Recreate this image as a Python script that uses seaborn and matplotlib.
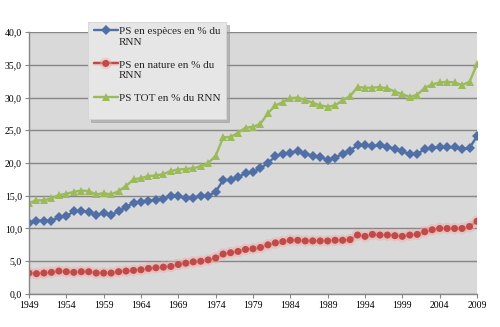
import numpy as np
import pandas as pd
import matplotlib
matplotlib.use("Agg")
import matplotlib.pyplot as plt
import matplotlib.patheffects as pe
from matplotlib.legend_handler import HandlerLine2D
from matplotlib.ticker import FuncFormatter
import seaborn as sns

years = list(range(1949, 2010))
especes = [10.9, 11.2, 11.2, 11.2, 11.7, 11.9, 12.6, 12.7, 12.5, 12.1,
           12.3, 12.1, 12.6, 13.3, 13.9, 14.0, 14.2, 14.4, 14.5, 15.0,
           14.9, 14.7, 14.7, 15.0, 15.0, 15.6, 17.4, 17.4, 17.8, 18.5,
           18.6, 19.2, 20.0, 21.0, 21.4, 21.6, 21.8, 21.4, 21.1, 20.9,
           20.5, 20.8, 21.4, 21.9, 22.7, 22.7, 22.6, 22.7, 22.5, 22.1,
           21.8, 21.3, 21.4, 22.1, 22.3, 22.4, 22.4, 22.4, 22.1, 22.3,
           24.1]
nature = [3.2, 3.1, 3.2, 3.3, 3.5, 3.4, 3.3, 3.4, 3.4, 3.2,
          3.2, 3.2, 3.4, 3.5, 3.6, 3.7, 3.9, 4.0, 4.1, 4.2,
          4.5, 4.7, 4.9, 5.0, 5.2, 5.5, 6.1, 6.3, 6.5, 6.8,
          6.9, 7.1, 7.5, 7.8, 8.0, 8.2, 8.2, 8.1, 8.1, 8.1,
          8.1, 8.2, 8.2, 8.3, 9.0, 8.8, 9.1, 9.0, 9.0, 8.9,
          8.8, 9.0, 9.1, 9.5, 9.8, 10.0, 10.0, 10.0, 10.0, 10.3,
          11.1]
total = [13.9, 14.3, 14.3, 14.6, 15.1, 15.3, 15.6, 15.8, 15.7, 15.2,
         15.4, 15.2, 15.7, 16.5, 17.5, 17.7, 18.0, 18.1, 18.3, 18.8,
         19.0, 19.1, 19.2, 19.5, 20.0, 21.1, 23.9, 24.0, 24.6, 25.4,
         25.5, 26.0, 27.6, 28.8, 29.3, 29.9, 30.0, 29.6, 29.2, 28.8,
         28.6, 28.8, 29.6, 30.2, 31.6, 31.5, 31.5, 31.6, 31.4, 30.9,
         30.5, 30.1, 30.4, 31.5, 32.0, 32.3, 32.4, 32.3, 31.9, 32.4,
         35.1]
series_names = ["PS en espèces en % du\nRNN", "PS en nature en % du\nRNN", "PS TOT en % du RNN"]
xticks = list(range(1949, 2010, 5))
yticks = [0, 5, 10, 15, 20, 25, 30, 35, 40]

df = pd.concat([
    pd.DataFrame({"year": years, "value": vals, "serie": name})
    for vals, name in zip([especes, nature, total], series_names)
], ignore_index=True)

colors = {series_names[0]: "#4F6FA6", series_names[1]: "#BE4B48", series_names[2]: "#9BBB59"}
markers = {series_names[0]: "D", series_names[1]: "o", series_names[2]: "^"}
msize = {series_names[0]: 4.8, series_names[1]: 5.0, series_names[2]: 5.5}

sns.set_theme(style="white")
plt.rcParams["font.family"] = ["Liberation Serif", "DejaVu Serif"]

fig = plt.figure(figsize=(5, 3.27), dpi=100)
ax = fig.add_axes([0.058, 0.101, 0.896, 0.801])
ax.set_facecolor("#D9D9D9")

sns.lineplot(data=df, x="year", y="value", hue="serie", style="serie",
             palette=colors, markers=markers, dashes=False, ax=ax,
             linewidth=1.7, markersize=5.0, markeredgewidth=0, legend=False)
for line, n in zip(ax.lines, series_names):
    line.set_markersize(msize[n])

glow = [pe.Stroke(linewidth=3.4, foreground="#F2A9A7", alpha=0.45), pe.Normal()]
ax.lines[1].set_path_effects(glow)

ax.set_xlim(1949, 2009)
ax.set_ylim(0, 40)
ax.set_xticks(xticks)
ax.set_yticks(yticks)
ax.yaxis.set_major_formatter(FuncFormatter(lambda v, p: f"{v:.1f}".replace(".", ",")))
ax.set_xlabel("")
ax.set_ylabel("")
ax.grid(axis="y", color="#868686", linewidth=1.0)
ax.set_axisbelow(True)
for s in ["top", "right"]:
    ax.spines[s].set_visible(False)
for s in ["left", "bottom"]:
    ax.spines[s].set_color("#868686")
    ax.spines[s].set_linewidth(1.0)
ax.tick_params(axis="both", labelsize=7, colors="#000000", length=3, width=0.8,
               color="#868686", pad=2, direction="out")
ax.tick_params(axis="x", bottom=True)
ax.tick_params(axis="y", left=True)


class OffsetHandler(HandlerLine2D):
    def __init__(self, dy=0.0, **kw):
        super().__init__(**kw)
        self.dy = dy

    def create_artists(self, legend, orig_handle, xdescent, ydescent, width, height, fontsize, trans):
        return super().create_artists(legend, orig_handle, xdescent, ydescent - 2 * self.dy * fontsize,
                                      width, height, fontsize, trans)


legend_labels = [series_names[0], series_names[1], series_names[2] + "\n\u00a0"]
handles = [matplotlib.lines.Line2D([], [], color=colors[n], marker=markers[n], markersize=msize[n],
                                   markeredgewidth=0, linewidth=1.7) for n in series_names]
handles[1].set_path_effects(glow)
hmap = {h: OffsetHandler(dy=0.6) for h in handles}
leg = fig.legend(handles, legend_labels, loc="upper left", bbox_to_anchor=(0.176, 0.933),
                 borderaxespad=0, frameon=True, fancybox=False,
                 shadow={"color": "#9A9A9A", "alpha": 0.6},
                 prop={"size": 8}, handlelength=2.2, handletextpad=0.05, labelspacing=1.3,
                 borderpad=0.5, handler_map=hmap)
leg.get_frame().set_facecolor("#E6E6E6")
leg.get_frame().set_edgecolor("#D4D4D4")
leg.get_frame().set_linewidth(0.6)
for t in leg.get_texts():
    t.set_linespacing(1.15)

fig.savefig("out.png", dpi=100, facecolor="white")
